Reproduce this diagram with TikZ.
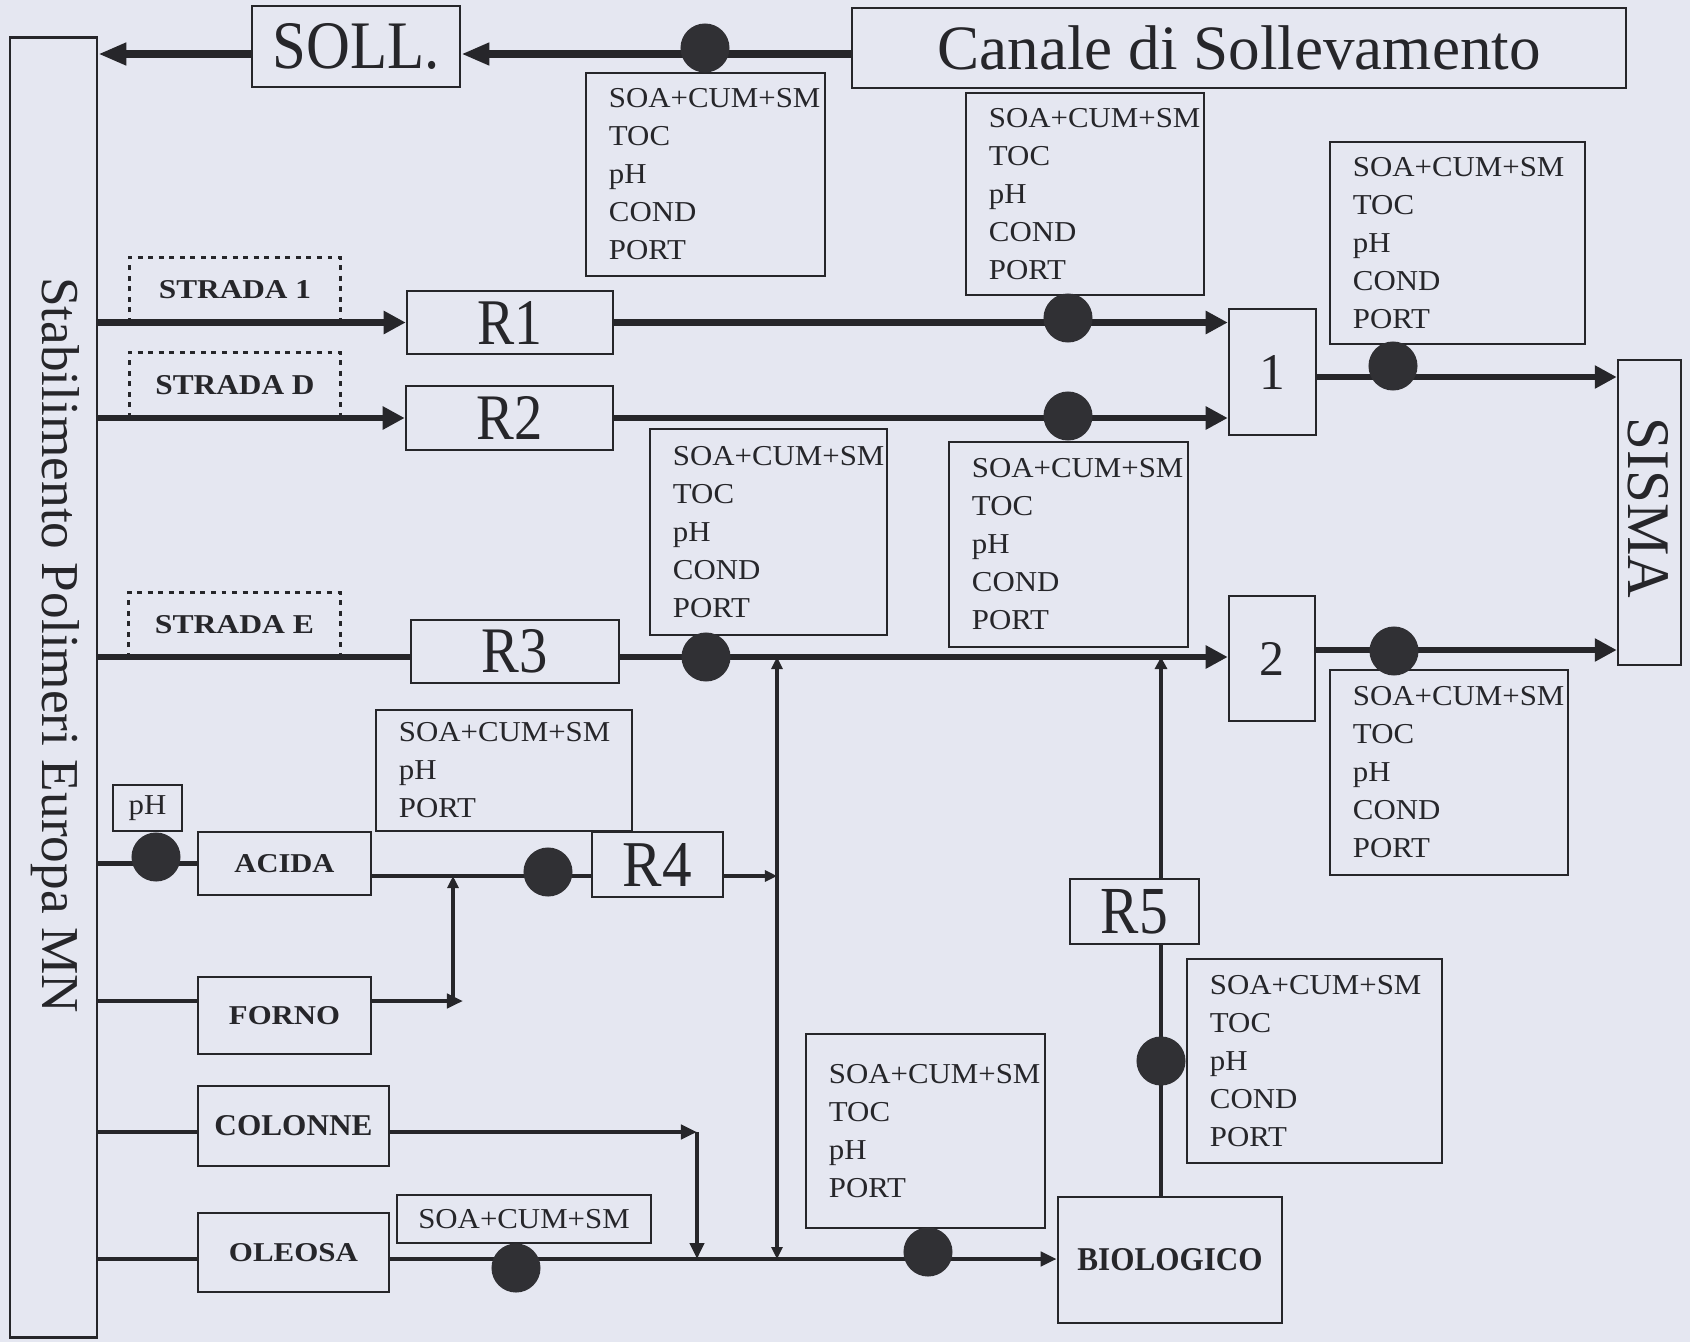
\documentclass[tikz,border=0pt]{standalone}
\usepackage{fontspec}
\usepackage{graphicx}
\setmainfont{Liberation Serif}
\newfontfamily\smpfont{Liberation Serif}[FakeStretch=1.07]
\usetikzlibrary{arrows.meta,calc}
\definecolor{bgc}{RGB}{229,231,241}
\definecolor{ink}{RGB}{38,38,42}
\definecolor{dotc}{RGB}{48,48,52}
\newcommand\lab[3]{\resizebox{#1cm}{#2cm}{#3}}
\hfuzz=20cm \hbadness=10000
\tikzset{
  bx/.style={draw=ink, line width=0.7pt, inner sep=0pt, text=ink},
  smp/.style={bx, align=left, inner xsep=0.23cm, inner ysep=0pt, font=\smpfont\fontsize{8.2}{10.8}\selectfont},
  smpc/.style={bx, font=\smpfont\fontsize{8.2}{10.8}\selectfont},
  dotn/.style={circle, fill=dotc, draw=none, minimum size=0.49cm, inner sep=0pt},
  lbl/.style={inner sep=0pt, text=ink},
  stradabox/.style={inner sep=0pt, text=ink, font=\bfseries, minimum width=2.10cm, minimum height=0.64cm},
  strdash/.style={draw=ink, line width=0.9pt, dash pattern=on 1.4pt off 1.6pt},
  topflow/.style={draw=ink, line width=2.4pt, -{Triangle[length=0.28cm,width=0.21cm]}},
  flow/.style={draw=ink, line width=1.8pt, -{Triangle[length=0.22cm,width=0.22cm]}},
  flowplain/.style={draw=ink, line width=1.8pt},
  med/.style={draw=ink, line width=1.4pt},
  medarrow/.style={med, -{Triangle[length=0.16cm,width=0.14cm]}},
  thinarrow/.style={draw=ink, line width=1.0pt, -{Triangle[length=0.12cm,width=0.11cm]}},
  r5line/.style={draw=ink, line width=1.3pt},
  r5arrow/.style={r5line, -{Triangle[length=0.12cm,width=0.12cm]}},
}
\begin{document}
\begin{tikzpicture}[x=0.01cm,y=-0.01cm]
\useasboundingbox (0,0) rectangle (1690,1342);
\fill[bgc] (0,0) rectangle (1690,1342);

% ---- main boxes
\node[bx, minimum width=0.87cm, minimum height=12.99cm] (Stab) at (53.5,687.5) {};
\node[lbl, rotate=-90] (StabT) at (55,645) {\resizebox{7.35cm}{!}{Stabilimento Polimeri Europa MN}};
\node[bx, minimum width=2.08cm, minimum height=0.81cm] (SOLL) at (356,46.5) {\lab{1.67}{0.45}{SOLL.}};
\node[bx, minimum width=7.74cm, minimum height=0.80cm] (Canale) at (1239,48) {\resizebox{6.03cm}{!}{Canale di Sollevamento}};
\node[bx, minimum width=2.06cm, minimum height=0.63cm] (R1) at (510,322.5) {\lab{0.65}{0.43}{R1}};
\node[bx, minimum width=2.07cm, minimum height=0.64cm] (R2) at (509.5,418) {\lab{0.66}{0.43}{R2}};
\node[bx, minimum width=2.08cm, minimum height=0.63cm] (R3) at (515,651.5) {\lab{0.66}{0.43}{R3}};
\node[bx, minimum width=1.31cm, minimum height=0.65cm] (R4) at (657.5,864.5) {\lab{0.69}{0.43}{R4}};
\node[bx, minimum width=1.29cm, minimum height=0.65cm] (R5) at (1134.5,911.5) {\lab{0.67}{0.44}{R5}};
\node[bx, minimum width=0.87cm, minimum height=1.26cm] (B1) at (1272.5,372) {\resizebox{!}{0.34cm}{1}};
\node[bx, minimum width=0.86cm, minimum height=1.25cm] (B2) at (1272,658.5) {\resizebox{!}{0.33cm}{2}};
\node[bx, minimum width=0.63cm, minimum height=3.05cm] (SISMA) at (1649.5,512.5) {};
\node[lbl, rotate=-90] (SISMAT) at (1648,508) {\lab{1.80}{0.40}{SISMA}};
\node[bx, minimum width=1.73cm, minimum height=0.63cm] (ACIDA) at (284.5,863.5) {\lab{1.00}{0.18}{\bfseries ACIDA}};
\node[bx, minimum width=1.73cm, minimum height=0.77cm] (FORNO) at (284.5,1015.5) {\lab{1.11}{0.18}{\bfseries FORNO}};
\node[bx, minimum width=1.91cm, minimum height=0.80cm] (COLONNE) at (293.5,1126) {\lab{1.58}{0.20}{\bfseries COLONNE}};
\node[bx, minimum width=1.91cm, minimum height=0.79cm] (OLEOSA) at (293.5,1252.5) {\lab{1.29}{0.18}{\bfseries OLEOSA}};
\node[bx, minimum width=2.24cm, minimum height=1.26cm] (BIO) at (1170,1260) {\lab{1.85}{0.22}{\bfseries BIOLOGICO}};
\node[smpc, minimum width=0.69cm, minimum height=0.46cm] (pH) at (147.5,808) {pH};

% ---- STRADA labels
\node[stradabox] (S1) at (235,290) {\lab{1.52}{0.18}{\bfseries STRADA 1}};
\node[stradabox] (SD) at (235,385) {\lab{1.59}{0.19}{\bfseries STRADA D}};
\node[stradabox] (SE) at (234.5,625) {\lab{1.59}{0.18}{\bfseries STRADA E}};
\foreach \s in {S1,SD,SE}
  \draw[strdash] (\s.south west) -- (\s.north west) -- (\s.north east) -- (\s.south east);

% ---- sample boxes
\node[smp, minimum width=2.39cm, minimum height=2.03cm, text width=1.93cm] (P1) at (705.5,174.5) {SOA+CUM+SM\\TOC\\pH\\COND\\PORT};
\node[smp, minimum width=2.38cm, minimum height=2.02cm, text width=1.92cm] (P2) at (1085,194) {SOA+CUM+SM\\TOC\\pH\\COND\\PORT};
\node[smp, minimum width=2.55cm, minimum height=2.02cm, text width=2.09cm] (P3) at (1457.5,243) {SOA+CUM+SM\\TOC\\pH\\COND\\PORT};
\node[smp, minimum width=2.37cm, minimum height=2.06cm, text width=1.91cm] (P4) at (768.5,532) {SOA+CUM+SM\\TOC\\pH\\COND\\PORT};
\node[smp, minimum width=2.39cm, minimum height=2.05cm, text width=1.93cm] (P5) at (1068.5,544.5) {SOA+CUM+SM\\TOC\\pH\\COND\\PORT};
\node[smp, minimum width=2.38cm, minimum height=2.05cm, text width=1.92cm] (P6) at (1449,772.5) {SOA+CUM+SM\\TOC\\pH\\COND\\PORT};
\node[smp, minimum width=2.56cm, minimum height=1.21cm, text width=2.10cm] (P7) at (504,770.5) {SOA+CUM+SM\\pH\\PORT};
\node[smp, minimum width=2.55cm, minimum height=2.04cm, text width=2.09cm] (P8) at (1314.5,1061) {SOA+CUM+SM\\TOC\\pH\\COND\\PORT};
\node[smp, minimum width=2.39cm, minimum height=1.94cm, text width=1.93cm] (P9) at (925.5,1131) {SOA+CUM+SM\\TOC\\pH\\PORT};
\node[smpc, minimum width=2.54cm, minimum height=0.48cm] (P10) at (524,1219) {SOA+CUM+SM};

% ---- line levels
\coordinate (yS) at (0,54);
\coordinate (yB1) at (0,377);
\coordinate (yR3) at (0,657);
\coordinate (yB2) at (0,650);
\coordinate (yAc) at (0,876);
\coordinate (yFo) at (0,1001);
\coordinate (yCo) at (0,1132);
\coordinate (yOl) at (0,1259);
\coordinate (xV) at (777,0);
\coordinate (xF) at (453,0);
\coordinate (xFt) at (463,0);
\coordinate (xC) at (697,0);
\coordinate (xR5) at (1161,0);

% ---- connectors
\draw[topflow] (Canale.west |- yS) -- (SOLL.east |- yS);
\draw[topflow] (SOLL.west |- yS) -- (Stab.east |- yS);
\draw[flow] (Stab.east |- R1.west) -- (R1.west);
\draw[flow] (Stab.east |- R2.west) -- (R2.west);
\draw[flow] (R1.east) -- (R1.east -| B1.west);
\draw[flow] (R2.east) -- (R2.east -| B1.west);
\draw[flow] (B1.east |- yB1) -- (SISMA.west |- yB1);
\draw[flowplain] (Stab.east |- yR3) -- (R3.west |- yR3);
\draw[flow] (R3.east |- yR3) -- (B2.west |- yR3);
\draw[flow] (B2.east |- yB2) -- (SISMA.west |- yB2);
\draw[med] (Stab.east |- ACIDA.west) -- (ACIDA.west);
\draw[med] (ACIDA.east |- yAc) -- (R4.west |- yAc);
\draw[thinarrow] (R4.east |- yAc) -- (xV |- yAc);
\draw[thinarrow] (xV |- yAc) -- (xV |- yR3);
\draw[thinarrow] (xV |- yAc) -- (xV |- yOl);
\draw[med] (Stab.east |- yFo) -- (FORNO.west |- yFo);
\draw[medarrow] (FORNO.east |- yFo) -- (xFt |- yFo);
\draw[thinarrow] (xF |- yFo) -- (xF |- yAc);
\draw[med] (Stab.east |- yCo) -- (COLONNE.west |- yCo);
\draw[medarrow] (COLONNE.east |- yCo) -- (xC |- yCo);
\draw[medarrow] (xC |- yCo) -- (xC |- yOl);
\draw[med] (Stab.east |- yOl) -- (OLEOSA.west |- yOl);
\draw[medarrow] (OLEOSA.east |- yOl) -- (BIO.west |- yOl);
\draw[r5line] (xR5 |- BIO.north) -- (xR5 |- R5.south);
\draw[r5arrow] (xR5 |- R5.north) -- (xR5 |- yR3);

% ---- sampling points
\node[dotn] (dS) at (705,48) {};
\node[dotn] (dR1) at (1068,318) {};
\node[dotn] (dR2) at (1068,416) {};
\node[dotn] (dB1) at (1393,366) {};
\node[dotn] (dR3) at (706,657) {};
\node[dotn] (dB2) at (1394,651) {};
\node[dotn] (dpH) at (156,857) {};
\node[dotn] (dR4) at (548,872) {};
\node[dotn] (dOL) at (516,1268) {};
\node[dotn] (dBio) at (928,1252) {};
\node[dotn] (dR5) at (1161,1061) {};
\end{tikzpicture}
\end{document}
